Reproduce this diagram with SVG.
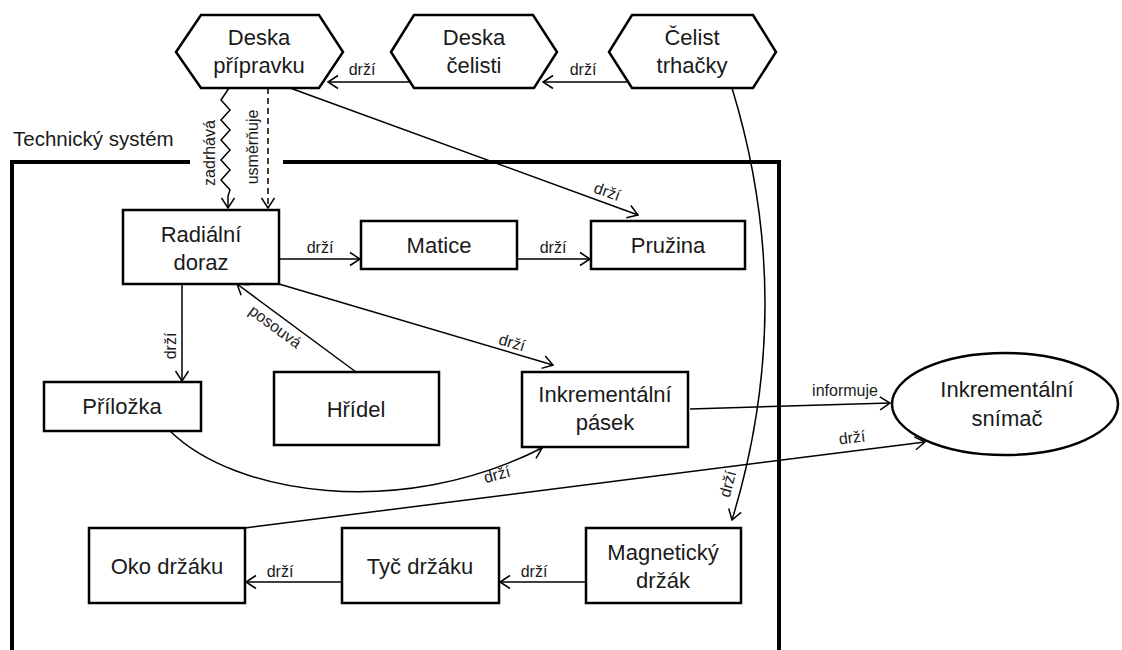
<svg xmlns="http://www.w3.org/2000/svg" width="1122" height="650" viewBox="0 0 1122 650">
<style>
.node{fill:#fff;stroke:#000;stroke-width:2.5}
.nt{font-family:"Liberation Sans",Arial,sans-serif;font-size:22px;fill:#1a1a1a;text-anchor:middle}
.lb{font-family:"Liberation Sans",Arial,sans-serif;font-size:16px;fill:#1a1a1a;text-anchor:middle}
.ln{fill:none;stroke:#000;stroke-width:1.5;marker-end:url(#ah)}
.frame{fill:none;stroke:#000;stroke-width:4}
</style>
<defs>
<marker id="ah" markerUnits="userSpaceOnUse" viewBox="-12 -8 13 16" markerWidth="13" markerHeight="16" refX="0" refY="0" orient="auto">
<path d="M-10,-6.5 L0,0 L-10,6.5" fill="none" stroke="#000" stroke-width="1.5"/>
</marker>
</defs>
<rect width="1122" height="650" fill="#fff"/>

<g id="frame">
<path class="frame" d="M190,162 H12 V652 M283,162 H779 V652"/>
<text x="13" y="146" style="font-family:'Liberation Sans',Arial,sans-serif;font-size:20.5px;fill:#1a1a1a">Technický systém</text>
</g>

<g id="connectors">
<line class="ln" x1="409" y1="82" x2="328" y2="82"/>
<text class="lb" x="362" y="75">drží</text>
<line class="ln" x1="627" y1="82" x2="543" y2="82"/>
<text class="lb" x="583" y="75">drží</text>

<polyline class="ln" points="229,88 221,100 230,110 221,120 230,130 221,140 230,150 221,160 230,170 221,180 230,190 228,196 228,208"/>
<text class="lb" transform="translate(215,153) rotate(-90)">zadrhává</text>
<line class="ln" x1="268" y1="88" x2="268" y2="208" stroke-dasharray="6 4"/>
<text class="lb" transform="translate(258,147) rotate(-90)">usměrňuje</text>

<line class="ln" x1="290" y1="88" x2="638" y2="215"/>
<text class="lb" transform="translate(607,192) rotate(20)" y="5">drží</text>

<line class="ln" x1="279" y1="259" x2="360" y2="259"/>
<text class="lb" x="320" y="253">drží</text>
<line class="ln" x1="517" y1="259" x2="590" y2="259"/>
<text class="lb" x="553" y="253">drží</text>

<line class="ln" x1="279" y1="284" x2="553" y2="365"/>
<text class="lb" transform="translate(512,343) rotate(16.5)" y="5">drží</text>

<line class="ln" x1="182" y1="284" x2="182" y2="381"/>
<text class="lb" transform="translate(176,346) rotate(-90)">drží</text>

<line class="ln" x1="356" y1="372" x2="237" y2="284"/>
<text class="lb" transform="translate(275,327) rotate(36.5)" y="5">posouvá</text>

<path class="ln" d="M170,431 C235,495 400,520 542,448"/>
<text class="lb" transform="translate(497,475) rotate(-15)" y="5">drží</text>

<line class="ln" x1="690" y1="409" x2="890" y2="403"/>
<text class="lb" x="845" y="396">informuje</text>

<line class="ln" x1="245" y1="528" x2="925" y2="442"/>
<text class="lb" transform="translate(852,438) rotate(-7)" y="5">drží</text>

<path class="ln" d="M732,88 Q798,304 732,520"/>
<text class="lb" transform="translate(728,484) rotate(-75)" y="5">drží</text>

<line class="ln" x1="586" y1="582" x2="500" y2="582"/>
<text class="lb" x="534" y="577">drží</text>
<line class="ln" x1="342" y1="582" x2="246" y2="582"/>
<text class="lb" x="280" y="577">drží</text>
</g>

<g id="deska-pripravku">
<polygon class="node" points="176,52 201,15 319,15 343,52 319,88 201,88"/>
<text class="nt" x="259" y="45">Deska</text>
<text class="nt" x="259" y="73">přípravku</text>
</g>
<g id="deska-celisti">
<polygon class="node" points="391,52 414,15 533,15 557,52 534,88 414,88"/>
<text class="nt" x="474" y="45">Deska</text>
<text class="nt" x="474" y="73">čelisti</text>
</g>
<g id="celist-trhacky">
<polygon class="node" points="609,52 632,15 753,15 776,52 753,88 632,88"/>
<text class="nt" x="692" y="45">Čelist</text>
<text class="nt" x="692" y="73">trhačky</text>
</g>

<g id="radialni-doraz">
<rect class="node" x="123" y="210" width="156" height="74"/>
<text class="nt" x="201" y="242">Radiální</text>
<text class="nt" x="201" y="270">doraz</text>
</g>
<g id="matice">
<rect class="node" x="361" y="221" width="156" height="48"/>
<text class="nt" x="439" y="253">Matice</text>
</g>
<g id="pruzina">
<rect class="node" x="591" y="221" width="154" height="48"/>
<text class="nt" x="668" y="253">Pružina</text>
</g>
<g id="prilozka">
<rect class="node" x="44" y="382" width="157" height="49"/>
<text class="nt" x="122" y="414">Příložka</text>
</g>
<g id="hridel">
<rect class="node" x="274" y="372" width="165" height="73"/>
<text class="nt" x="356" y="417">Hřídel</text>
</g>
<g id="inkrementalni-pasek">
<rect class="node" x="522" y="372" width="166" height="75"/>
<text class="nt" x="605" y="402">Inkrementální</text>
<text class="nt" x="605" y="430">pásek</text>
</g>
<g id="inkrementalni-snimac">
<ellipse class="node" cx="1005" cy="404" rx="113" ry="51"/>
<text class="nt" x="1007" y="397">Inkrementální</text>
<text class="nt" x="1007" y="426">snímač</text>
</g>
<g id="oko-drzaku">
<rect class="node" x="89" y="528" width="156" height="75"/>
<text class="nt" x="167" y="574">Oko držáku</text>
</g>
<g id="tyc-drzaku">
<rect class="node" x="342" y="528" width="157" height="75"/>
<text class="nt" x="420" y="574">Tyč držáku</text>
</g>
<g id="magneticky-drzak">
<rect class="node" x="586" y="528" width="155" height="75"/>
<text class="nt" x="663" y="560">Magnetický</text>
<text class="nt" x="663" y="588">držák</text>
</g>
</svg>
